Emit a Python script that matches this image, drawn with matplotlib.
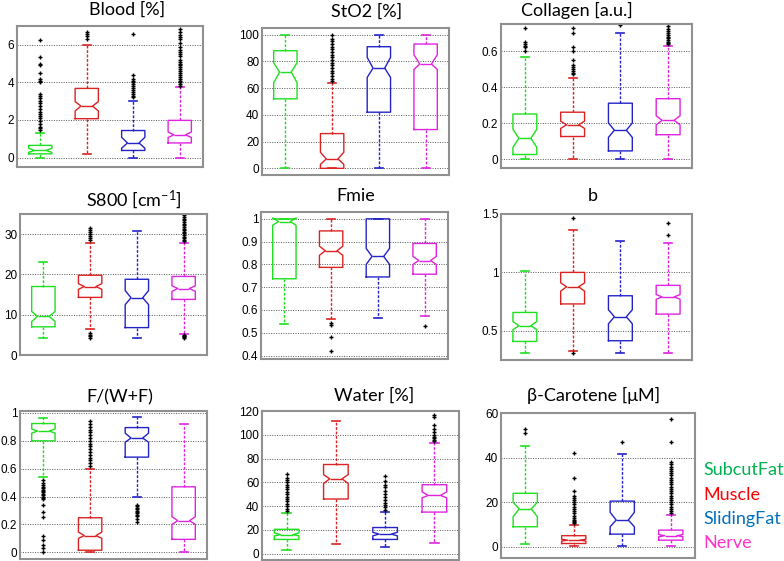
import numpy as np
import matplotlib
matplotlib.use("Agg")
import matplotlib.pyplot as plt
from matplotlib.ticker import FuncFormatter

# tissue groups and their colours
groups = ["SubcutFat", "Muscle", "SlidingFat", "Nerve"]
box_colors = ["#1ee01e", "#dc2323", "#2323c8", "#e023e0"]
legend_colors = ["#00b050", "#ff0000", "#0070c0", "#ff33cc"]

# each row: [whislo, q1, median, q3, whishi]; ci rows: [cilo, cihi]
blood_stats = [[0.0, 0.2, 0.38, 0.65, 1.32],
               [0.2, 2.07, 2.74, 3.68, 6.0],
               [0.0, 0.38, 0.78, 1.44, 3.02],
               [0.0, 0.78, 1.21, 1.98, 3.74]]
blood_ci = [[0.28, 0.5], [2.48, 2.98], [0.5, 1.08], [1.07, 1.36]]
blood_fliers = [[1.45, 1.55, 1.65, 1.8, 1.95, 2.1, 2.2, 2.3, 2.45, 2.6, 2.75, 2.9, 3.0,
                 3.15, 3.3, 3.4, 4.0, 4.1, 4.2, 4.5, 4.9, 5.0, 5.35, 6.25],
                [6.3, 6.45, 6.6, 6.7],
                [3.2, 3.3, 3.4, 3.5, 3.6, 3.7, 3.8, 3.9, 4.0, 4.1, 4.2, 4.4, 6.6],
                [3.8, 3.9, 4.0, 4.1, 4.2, 4.3, 4.4, 4.5, 4.6, 4.7, 4.8, 4.9, 5.0, 5.1,
                 5.2, 5.4, 5.5, 5.6, 5.7, 5.9, 6.1, 6.3, 6.4, 6.5, 6.7, 6.85]]

sto2_stats = [[0, 52, 72, 88, 100],
              [0, 0, 7, 26, 64],
              [0, 42, 75, 91, 100],
              [0, 29, 78, 93, 100]]
sto2_ci = [[64, 79], [3, 12], [68, 83], [74, 85]]
sto2_fliers = [[], [65, 67, 69, 71, 73, 75, 77, 79, 81, 83, 85, 87, 89, 91, 93, 95, 97, 100],
               [], []]

collagen_stats = [[0.0, 0.025, 0.115, 0.25, 0.568],
                  [0.0, 0.125, 0.19, 0.26, 0.45],
                  [0.0, 0.045, 0.16, 0.31, 0.70],
                  [0.0, 0.135, 0.215, 0.335, 0.63]]
collagen_ci = [[0.065, 0.165], [0.17, 0.21], [0.12, 0.2], [0.19, 0.24]]
collagen_fliers = [[0.6, 0.62, 0.63, 0.64, 0.65, 0.73],
                   [0.47, 0.48, 0.49, 0.5, 0.51, 0.52, 0.55, 0.6, 0.62, 0.7, 0.73],
                   [0.745],
                   [0.64, 0.645, 0.65, 0.66, 0.67, 0.68, 0.69, 0.7, 0.71, 0.72, 0.74]]

s800_stats = [[4.2, 7.0, 9.6, 17.0, 23.0],
              [6.4, 14.3, 17.0, 19.8, 27.8],
              [4.1, 6.8, 14.2, 18.8, 30.7],
              [5.2, 13.8, 16.5, 19.5, 27.8]]
s800_ci = [[8.3, 10.8], [16.3, 17.7], [12.5, 16.0], [15.8, 17.2]]
s800_fliers = [[],
               [4.2, 4.6, 5.0, 5.4, 28.5, 29.0, 29.5, 30.0, 30.5, 31.0, 31.5],
               [],
               [4.2, 4.4, 4.6, 4.8, 5.0, 28.2, 28.6, 29.0, 29.4, 29.8, 30.2, 30.6, 31.0,
                31.4, 31.8, 32.2, 32.6, 33.0, 33.4, 33.8, 34.2, 34.7]]

fmie_stats = [[0.54, 0.737, 0.988, 1.0, 1.0],
              [0.56, 0.787, 0.86, 0.947, 1.0],
              [0.565, 0.745, 0.835, 1.0, 1.0],
              [0.575, 0.757, 0.817, 0.892, 1.0]]
fmie_ci = [[0.972, 1.004], [0.84, 0.88], [0.8, 0.87], [0.8, 0.835]]
fmie_fliers = [[], [0.535, 0.545, 0.48, 0.42], [], [0.53]]

b_stats = [[0.306, 0.409, 0.543, 0.657, 1.014],
           [0.33, 0.73, 0.877, 1.0, 1.36],
           [0.306, 0.415, 0.62, 0.8, 1.27],
           [0.306, 0.643, 0.79, 0.889, 1.25]]
b_ci = [[0.51, 0.58], [0.84, 0.91], [0.56, 0.68], [0.77, 0.81]]
b_fliers = [[], [0.31, 1.47], [], [1.32, 1.42]]

fwf_stats = [[0.54, 0.8, 0.87, 0.924, 0.965],
             [0.005, 0.015, 0.12, 0.248, 0.6],
             [0.4, 0.683, 0.82, 0.895, 0.97],
             [0.005, 0.093, 0.227, 0.47, 0.924]]
fwf_ci = [[0.855, 0.885], [0.1, 0.145], [0.79, 0.855], [0.2, 0.255]]
fwf_fliers = [[0.52, 0.5, 0.48, 0.47, 0.46, 0.45, 0.44, 0.43, 0.42, 0.41, 0.40, 0.39,
               0.38, 0.34, 0.29, 0.25, 0.12, 0.09, 0.05, 0.03, 0.0],
              [0.62, 0.64, 0.66, 0.68, 0.70, 0.72, 0.74, 0.76, 0.78, 0.80, 0.82, 0.84,
               0.86, 0.88, 0.9, 0.92, 0.94],
              [0.22, 0.24, 0.26, 0.27, 0.28, 0.29, 0.30, 0.31, 0.32, 0.33, 0.34],
              []]

water_stats = [[3.5, 12, 16, 20.5, 34],
               [8, 46, 63, 75, 112],
               [5.3, 12, 16.5, 22, 35],
               [9.3, 35, 49, 58, 93]]
water_ci = [[15, 17.5], [59, 66.5], [15, 18], [47, 52]]
water_fliers = [[36, 38, 40, 42, 44, 46, 48, 50, 52, 54, 56, 58, 60, 62, 64, 67],
                [],
                [37, 39, 41, 43, 45, 48, 50, 53, 56, 58, 61, 65],
                [95, 96, 97, 98, 100, 102, 105, 108, 115, 117]]

carotene_stats = [[1.2, 9, 17, 24, 45],
                  [0.5, 1.5, 3, 5, 10],
                  [0.5, 5.7, 12, 20.5, 41.5],
                  [0.5, 3, 5, 7.5, 14.2]]
carotene_ci = [[13.5, 20], [2.6, 3.4], [9, 15.5], [4.5, 5.5]]
carotene_fliers = [[51, 53],
                   [10.5, 11, 11.5, 12, 13, 14, 15, 16, 17, 18, 19, 20, 21, 22, 23, 25, 31, 42],
                   [47],
                   [15, 16, 17, 18, 19, 20, 21, 22, 23, 24, 25, 26, 27, 28, 29, 30, 31, 32,
                    33, 34, 35, 36, 37, 38, 47, 57.5]]

titles = ["Blood [%]", "StO2 [%]", "Collagen [a.u.]",
          "S800 [cm$^{-1}$]", "Fmie", "b",
          "F/(W+F)", "Water [%]", "\u03b2-Carotene [\u03bcM]"]

# axes rectangles in pixels: left, top, right, bottom
W, H = 784, 561
rects = [(17, 26, 203, 167), (262, 28, 449, 175), (501, 24, 692, 168),
         (20, 214, 207, 355), (261, 212, 448, 359), (501, 214, 692, 360),
         (20, 411, 207, 559), (262, 411, 459, 560), (501, 413, 695, 558)]
title_pos = [(127, 10), (367, 12), (577, 10),
             (134, 200), (356, 196), (593, 196),
             (120, 397), (374, 396), (594, 395)]
ylims = [(-0.5, 7), (-5, 105), (-0.05, 0.75),
         (0, 35), (0.385, 1.03), (0.25, 1.5),
         (-0.048, 1.014), (-5.3, 120), (-5, 60)]
yticks = [[0, 2, 4, 6], [0, 20, 40, 60, 80, 100], [0, 0.2, 0.4, 0.6],
          [0, 10, 20, 30], [0.4, 0.5, 0.6, 0.7, 0.8, 0.9, 1.0], [0.5, 1.0, 1.5],
          [0, 0.2, 0.4, 0.6, 0.8, 1.0], [0, 20, 40, 60, 80, 100, 120], [0, 20, 40, 60]]

panels = [(blood_stats, blood_ci, blood_fliers),
          (sto2_stats, sto2_ci, sto2_fliers),
          (collagen_stats, collagen_ci, collagen_fliers),
          (s800_stats, s800_ci, s800_fliers),
          (fmie_stats, fmie_ci, fmie_fliers),
          (b_stats, b_ci, b_fliers),
          (fwf_stats, fwf_ci, fwf_fliers),
          (water_stats, water_ci, water_fliers),
          (carotene_stats, carotene_ci, carotene_fliers)]

plt.rcParams["mathtext.fontset"] = "custom"
plt.rcParams["mathtext.rm"] = "Lato"
plt.rcParams["mathtext.it"] = "Lato:italic"

fig = plt.figure(figsize=(W / 100, H / 100), dpi=100)
fig.patch.set_facecolor("white")

for i, (stats, ci, fliers) in enumerate(panels):
    l, t, r, b = rects[i]
    ax = fig.add_axes([l / W, (H - b) / H, (r - l) / W, (b - t) / H])

    bxp_stats = []
    for s, c, f in zip(stats, ci, fliers):
        bxp_stats.append(dict(whislo=s[0], q1=s[1], med=s[2], q3=s[3], whishi=s[4],
                              cilo=c[0], cihi=c[1], fliers=np.array(f, dtype=float)))

    res = ax.bxp(bxp_stats, positions=[1, 2, 3, 4], widths=0.5, capwidths=0.17,
                 shownotches=True, showfliers=True,
                 flierprops=dict(marker="+", markersize=3.5, markeredgecolor="black",
                                 markeredgewidth=1.0, linestyle="none"))
    for k, col in enumerate(box_colors):
        res["boxes"][k].set(color=col, linewidth=1.0)
        res["medians"][k].set(color=col, linewidth=1.0)
        for w in res["whiskers"][2 * k:2 * k + 2]:
            w.set(color=col, linewidth=1.0, linestyle=(0, (2, 1.2)))
        for c in res["caps"][2 * k:2 * k + 2]:
            c.set(color=col, linewidth=1.2)

    ax.set_xlim(0.5, 4.5)
    ax.set_ylim(*ylims[i])
    ax.set_yticks(yticks[i])
    ax.yaxis.set_major_formatter(FuncFormatter(lambda v, p: "%g" % v))
    ax.set_xticks([])
    ax.tick_params(axis="y", length=0, pad=2, labelsize=8.5)
    for lab in ax.get_yticklabels():
        lab.set_fontfamily("Liberation Sans")
    ax.yaxis.grid(True, linestyle=(0, (1, 1.5)), color="#555555", linewidth=0.7)
    ax.set_axisbelow(True)
    for sp in ax.spines.values():
        sp.set_color("#909090")
        sp.set_linewidth(1.5)

    tx, ty = title_pos[i]
    fig.text(tx / W, 1 - ty / H, titles[i], ha="center", va="center",
             fontsize=13, family=["Lato", "DejaVu Sans"])

# coloured group labels at the lower right
legend_y = [470, 495, 519, 543]
for name, col, y in zip(groups, legend_colors, legend_y):
    fig.text(703 / W, 1 - y / H, name, color=col, ha="left", va="center",
             fontsize=13, family=["Lato", "DejaVu Sans"])

fig.savefig("out.png", dpi=100)
